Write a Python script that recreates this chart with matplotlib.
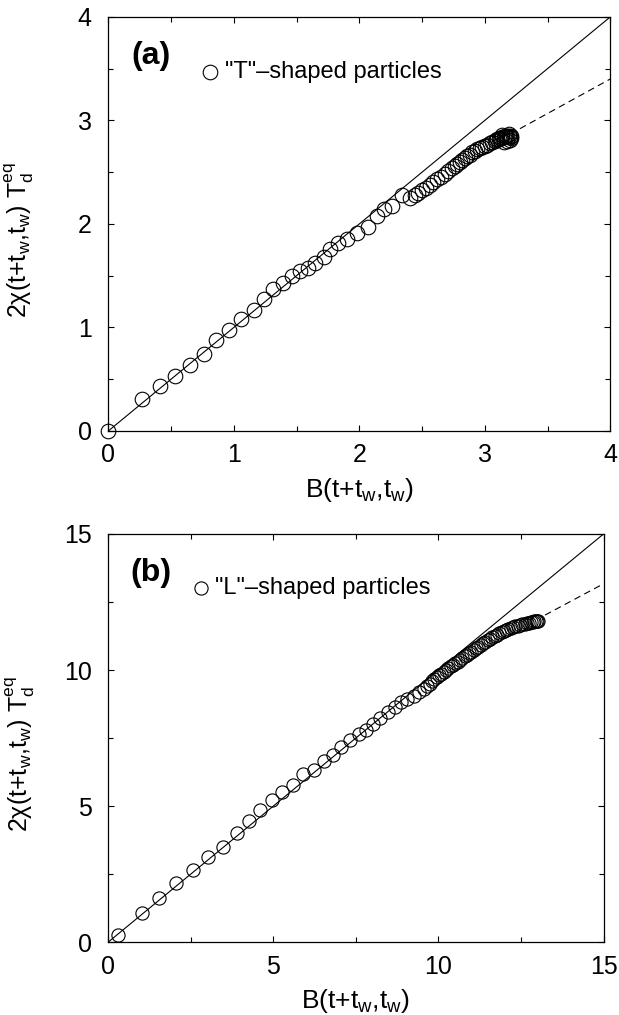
import numpy as np
import matplotlib
matplotlib.use("Agg")
import matplotlib.pyplot as plt
from matplotlib.ticker import MultipleLocator

plt.rcParams['font.family'] = ['Liberation Sans', 'DejaVu Sans']
plt.rcParams['mathtext.fontset'] = 'custom'
plt.rcParams['mathtext.rm'] = 'Liberation Sans'
plt.rcParams['mathtext.it'] = 'Liberation Sans:italic'

# panel (a): "T"-shaped particles
B_T = [0.0, 0.27, 0.41, 0.53, 0.65, 0.76, 0.86, 0.96, 1.06, 1.16, 1.24, 1.31, 1.39,
       1.46, 1.53, 1.59, 1.65, 1.72, 1.77, 1.83, 1.90, 1.98, 2.07, 2.14, 2.20, 2.26,
       2.34, 2.40, 2.44, 2.47, 2.50, 2.53, 2.56, 2.59, 2.62, 2.65, 2.68, 2.71, 2.74,
       2.76, 2.78, 2.80, 2.82, 2.84, 2.86, 2.88, 2.90, 2.92, 2.94, 2.96, 2.98, 3.00,
       3.02, 3.04, 3.06, 3.08, 3.09, 3.10, 3.11, 3.12, 3.13, 3.14, 3.15, 3.16, 3.17,
       3.18, 3.19, 3.20, 3.21, 3.15, 3.18, 3.20, 3.21, 3.19, 3.14]
Y_T = [0.0, 0.31, 0.43, 0.53, 0.64, 0.74, 0.88, 0.98, 1.08, 1.17, 1.27, 1.37, 1.43,
       1.50, 1.545, 1.57, 1.625, 1.68, 1.76, 1.82, 1.85, 1.915, 1.97, 2.08, 2.14, 2.17,
       2.28, 2.25, 2.28, 2.30, 2.33, 2.35, 2.38, 2.40, 2.43, 2.45, 2.48, 2.51, 2.54,
       2.56, 2.58, 2.60, 2.62, 2.64, 2.66, 2.67, 2.69, 2.70, 2.72, 2.73, 2.74, 2.75,
       2.76, 2.78, 2.79, 2.80, 2.81, 2.82, 2.82, 2.83, 2.83, 2.84, 2.84, 2.85, 2.85,
       2.85, 2.85, 2.84, 2.83, 2.79, 2.80, 2.81, 2.85, 2.87, 2.86]
fit_T_x = [3.28, 4.0]
fit_T_y = [2.92, 3.40]

# panel (b): "L"-shaped particles
B_L = [0.30, 1.01, 1.55, 2.04, 2.56, 3.02, 3.47, 3.89, 4.27, 4.60, 4.95, 5.26, 5.60,
       5.91, 6.24, 6.53, 6.81, 7.04, 7.31, 7.58, 7.82, 8.03, 8.24, 8.46, 8.68, 8.86,
       9.04, 9.25, 9.42, 9.55, 9.65, 9.73, 9.81, 9.88, 9.95, 10.02, 10.09, 10.16, 10.23,
       10.30, 10.37, 10.44, 10.51, 10.58, 10.65, 10.72, 10.79, 10.86, 10.93, 11.00, 11.07,
       11.14, 11.21, 11.28, 11.35, 11.42, 11.49, 11.56, 11.63, 11.70, 11.77, 11.84, 11.91,
       11.98, 12.05, 12.12, 12.19, 12.26, 12.33, 12.40, 12.47, 12.54, 12.61, 12.68, 12.74,
       12.80, 12.85, 12.90, 12.94, 12.98, 13.01]
Y_L = [0.24, 1.06, 1.62, 2.17, 2.65, 3.11, 3.51, 3.99, 4.45, 4.84, 5.21, 5.51, 5.79,
       6.16, 6.32, 6.65, 6.89, 7.17, 7.44, 7.65, 7.81, 8.02, 8.22, 8.44, 8.63, 8.84,
       8.93, 9.05, 9.19, 9.31, 9.41, 9.50, 9.58, 9.66, 9.73, 9.80, 9.87, 9.94, 10.00,
       10.06, 10.13, 10.19, 10.25, 10.31, 10.38, 10.44, 10.50, 10.56, 10.62, 10.68, 10.74,
       10.80, 10.86, 10.92, 10.98, 11.04, 11.09, 11.15, 11.20, 11.25, 11.30, 11.35, 11.39,
       11.43, 11.47, 11.51, 11.54, 11.57, 11.60, 11.63, 11.66, 11.68, 11.70, 11.72, 11.74,
       11.76, 11.77, 11.79, 11.80, 11.81, 11.80]
fit_L_x = [13.23, 15.0]
fit_L_y = [12.02, 13.17]

xlab = r'B(t+t$_{\rm w}$,t$_{\rm w}$)'
ylab = r'2χ(t+t$_{\rm w}$,t$_{\rm w}$) T$_{\rm d}^{\rm eq}$'

fig = plt.figure(figsize=(6.19, 10.15), dpi=100)
ax1 = fig.add_axes([0.175, 0.5754, 0.811, 0.408])
ax2 = fig.add_axes([0.175, 0.0719, 0.800, 0.402])

panels = [
    (ax1, B_T, Y_T, fit_T_x, fit_T_y, 4, 1, 0.5, '(a)', '"T"\u2013shaped particles',
     10.5, 0.202, 0.232),
    (ax2, B_L, Y_L, fit_L_x, fit_L_y, 15, 5, 2.5, '(b)', '"L"\u2013shaped particles',
     9.5, 0.188, 0.216),
]

for ax, bx, by, fx, fy, lim, maj, mnr, tag, name, ms, lx, tx in panels:
    ax.plot([0, lim], [0, lim], color='black', lw=0.8)
    ax.plot(fx, fy, color='black', lw=0.8, ls=(0, (6, 4)))
    ax.plot(bx, by, 'o', mfc='none', mec='black', mew=0.8, ms=ms, clip_on=False)
    ax.set_xlim(0, lim)
    ax.set_ylim(0, lim)
    ax.xaxis.set_major_locator(MultipleLocator(maj))
    ax.yaxis.set_major_locator(MultipleLocator(maj))
    ax.xaxis.set_minor_locator(MultipleLocator(mnr))
    ax.yaxis.set_minor_locator(MultipleLocator(mnr))
    ax.tick_params(which='both', direction='in', top=True, right=True, width=0.8)
    ax.tick_params(which='major', length=4.5, labelsize=18)
    ax.tick_params(which='minor', length=3.5)
    ax.tick_params(axis='x', pad=9)
    ax.tick_params(axis='y', pad=12)
    for s in ax.spines.values():
        s.set_linewidth(0.9)
    ax.set_xlabel(xlab, fontsize=19, labelpad=6)
    ax.set_ylabel(ylab, fontsize=18)
    ax.yaxis.set_label_coords(-0.145, 0.46)
    ax.text(0.045, 0.905, tag, transform=ax.transAxes, fontsize=23,
            fontweight='bold', va='center', ha='left')
    ax.plot([lx], [0.868], 'o', transform=ax.transAxes, mfc='none',
            mec='black', mew=0.8, ms=ms, clip_on=False)
    ax.text(tx, 0.868, name, transform=ax.transAxes, fontsize=17,
            va='center', ha='left')

fig.savefig('out.png', dpi=100)
